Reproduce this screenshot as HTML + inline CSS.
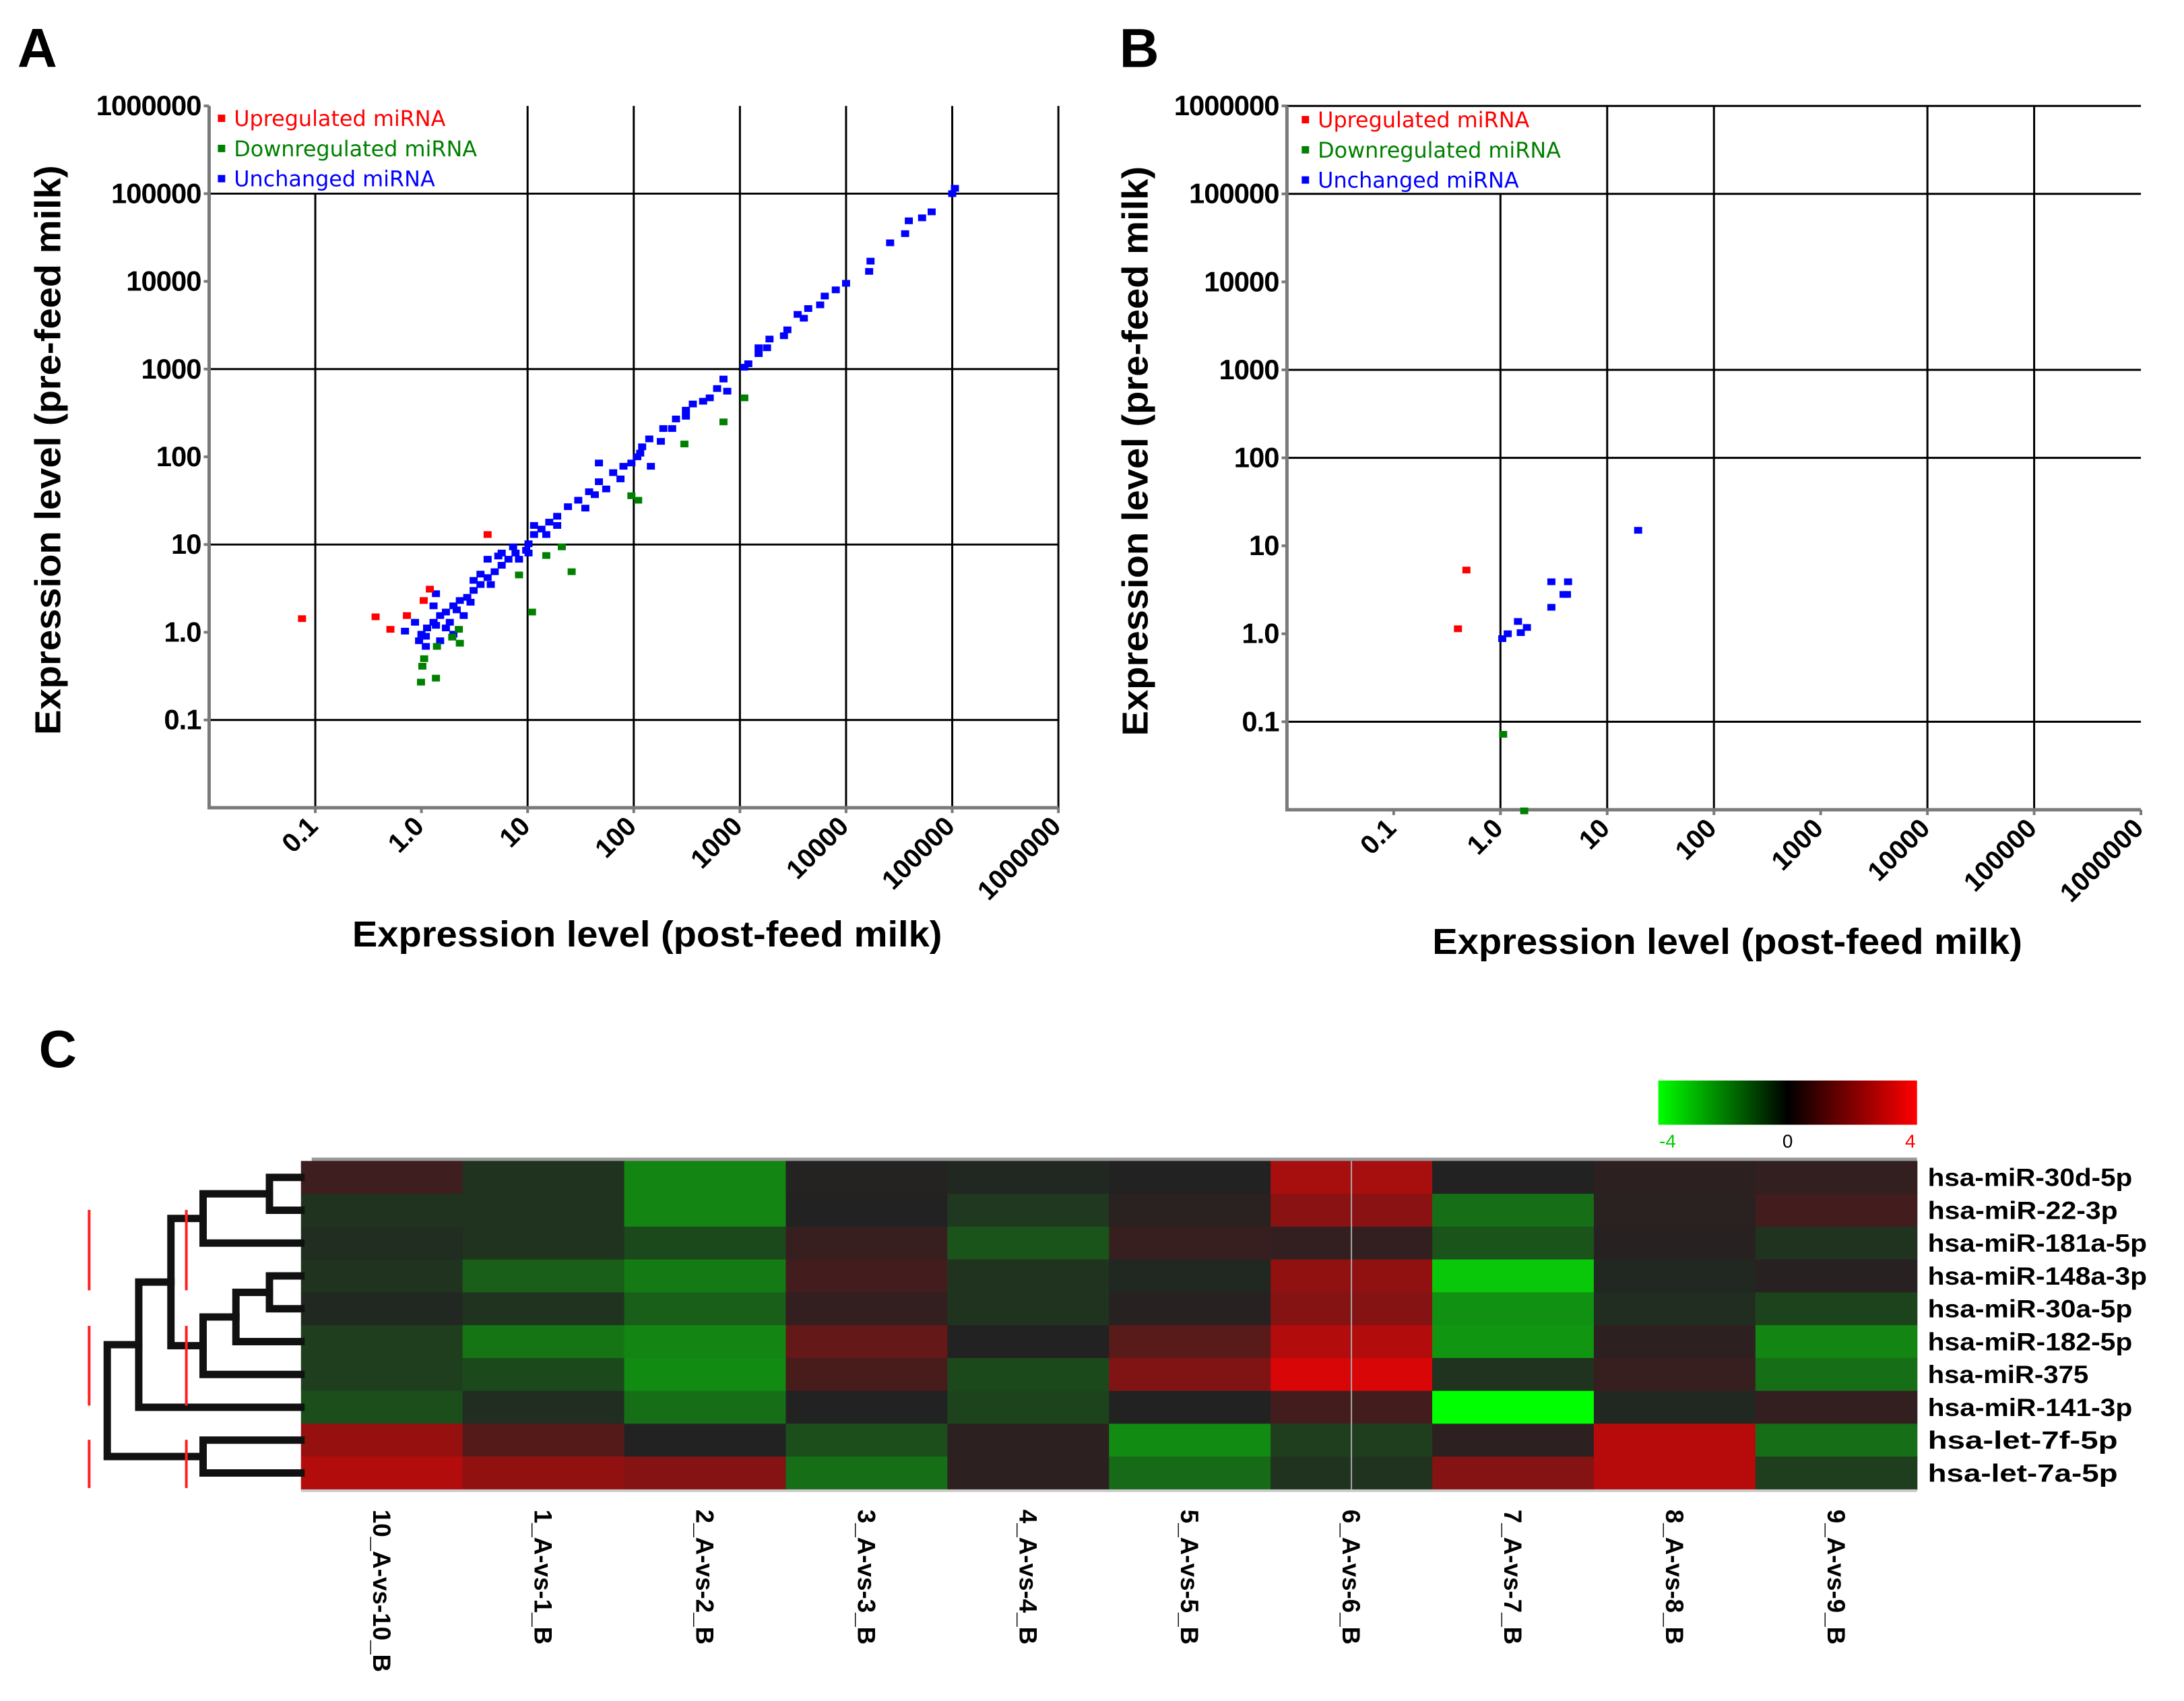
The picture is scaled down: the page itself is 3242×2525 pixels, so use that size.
<!DOCTYPE html>
<html><head><meta charset="utf-8"><style>
html,body{margin:0;padding:0;background:#fff;}
svg{display:block;}
text{font-family:"Liberation Sans",Arial,sans-serif;}
</style></head><body>
<svg xmlns="http://www.w3.org/2000/svg" width="3242" height="2525" viewBox="0 0 3242 2525">
<rect width="3242" height="2525" fill="#fff"/>
<g id="fig" transform="scale(0.995)">
<text x="26" y="100" font-size="82" font-weight="bold">A</text>
<text x="1670" y="100" font-size="82" font-weight="bold">B</text>
<text x="58" y="1592" font-size="78" font-weight="bold">C</text>
<g id="pA"></g>
<g id="pB"></g>
<g id="hm"></g>
</g>
</svg>
<script>
// ---- Panel A data ----
const aBlueX=[1e5,1.06e5,6.4e4,5.2e4,3.9e4,3.6e4,2.6e4,1.7e4,1.65e4,1e4,8e3,6.3e3,5.7e3,4.4e3,3.5e3,2.8e3,2.6e3,1.9e3,1.8e3,1.5e3,1.2e3,1.1e3,700,760,610,450,360,310,250,190,140,120,108,95,80,145,64,47,47,38,30,24,19,16,13.5,11.5,10.2,9.7,7.7,6.6,5.7,4.9,4.2,3.6,3.1,2.7,2.3,2,1.7,1.5,1.3,1.13,1.0,1.1,0.95,0.7,0.87,1.37,4.2,5.7,7.3,11.5,15,19,35,43,55,75,115,180,230,310,520,1.5e3,4e3,1.85,2.15,2.5,2.9,1.7,1.5,2,1.3,3.6,4.5,5.3,8.3,10.2,3.1,1.1,1.37];
const aBlueY=[1e5,1.15e5,6.2e4,5.3e4,4.9e4,3.5e4,2.75e4,1.7e4,1.3e4,9.5e3,8e3,6.8e3,5.4e3,4.9e3,4.2e3,2.8e3,2.4e3,2.2e3,1.75e3,1.5e3,1.15e3,1.05e3,770,560,600,430,400,340,270,210,160,130,100,85,78,78,66,85,52,40,32,27,21,18,15,13,10.2,8.6,8,6.8,5.8,4.9,4.2,3.5,3,2.5,2.3,2,1.7,1.55,1.3,1.12,0.95,0.69,0.8,1.03,1.3,2.75,6.8,8,9.4,16.5,13,16.5,26,37,43,56,110,150,210,290,470,1.75e3,3.8e3,1.3,1.8,1.55,2.2,1.12,0.8,0.95,2,4.6,3.5,7.4,6.8,8,3.9,0.9,1.2];
const aRedX=[0.075,0.37,0.51,0.73,1.05,1.2,4.2];
const aRedY=[1.43,1.5,1.08,1.55,2.3,3.1,13];
const aGreenX=[1100,700,300,95,110,21,15,26,8.3,11,2.25,1.95,2.3,1.4,1.06,1.02,0.99,1.37];
const aGreenY=[470,250,140,36,32,9.4,7.5,4.9,4.5,1.7,1.08,0.88,0.75,0.69,0.5,0.41,0.27,0.3];
// ---- Panel B data ----
const bBlueX=[1.04,1.17,1.46,1.55,1.77,3.0,3.0,3.9,4.2,4.3,19.5];
const bBlueY=[0.88,1.0,1.38,1.03,1.18,2.0,3.9,2.8,2.8,3.9,15];
const bRedX=[0.48,0.4];
const bRedY=[5.3,1.14];
const bGreenX=[1.06,1.67];
const bGreenY=[0.072,0.0097];
const tickLabels=["0.1","1.0","10","100","1000","10000","100000","1000000"];
const tickVals=[0.1,1,10,100,1000,10000,100000,1000000];
// ---- Heatmap data ----
const hmRows=["hsa-miR-30d-5p","hsa-miR-22-3p","hsa-miR-181a-5p","hsa-miR-148a-3p","hsa-miR-30a-5p","hsa-miR-182-5p","hsa-miR-375","hsa-miR-141-3p","hsa-let-7f-5p","hsa-let-7a-5p"];
const hmCols=["10_A-vs-10_B","1_A-vs-1_B","2_A-vs-2_B","3_A-vs-3_B","4_A-vs-4_B","5_A-vs-5_B","6_A-vs-6_B","7_A-vs-7_B","8_A-vs-8_B","9_A-vs-9_B"];
const hmValues=[
[0.5,-0.3,-1.8,0.05,-0.1,0,2.4,0,0.2,0.3],
[-0.3,-0.3,-1.8,0,-0.4,0.15,1.9,-1.4,0.15,0.6],
[-0.2,-0.3,-0.7,0.4,-0.9,0.4,0.3,-0.9,0.1,-0.3],
[-0.3,-1.1,-1.6,0.6,-0.3,-0.1,2.0,-3.0,-0.1,0.1],
[-0.1,-0.3,-1.1,0.3,-0.3,0.1,1.8,-2.0,-0.2,-0.6],
[-0.5,-1.5,-1.8,1.2,0,1.0,2.6,-2.1,0.2,-1.8],
[-0.5,-0.7,-1.9,0.7,-0.7,1.7,3.3,-0.3,0.4,-1.4],
[-0.8,-0.2,-1.4,0,-0.6,0.02,0.6,-4.0,-0.1,0.3],
[2.1,0.9,0.02,-0.8,0.2,-1.9,-0.5,0.2,2.7,-1.4],
[2.6,2.0,1.8,-1.4,0.2,-1.3,-0.3,1.8,2.7,-0.5]];
const scaleLabels=["-4","0","4"];
const scaleVals=[-4,0,4];

const NS="http://www.w3.org/2000/svg";
function mk(tag,attrs,parent,txt){const e=document.createElementNS(NS,tag);for(const k in attrs)e.setAttribute(k,attrs[k]);if(txt!==undefined)e.textContent=txt;parent.appendChild(e);return e;}

function scatter(g,L,R,T,B,hGrid,vGrid,vGridTop,topLine,series,legX,legY,xTitle,yTitle,yTitleX,xTitleDy){
  const xs=v=>L+(Math.log10(v)+2)*(R-L)/8;
  const ys=v=>B-(Math.log10(v)+2)*(B-T)/8;
  if(topLine){const l=mk('line',{x1:L,y1:T,x2:R,y2:T,stroke:'#000','stroke-width':3},g);}
  hGrid.forEach(v=>{const l=mk('line',{x1:L,y1:ys(v),x2:R,y2:ys(v),stroke:'#000','stroke-width':3},g);});
  vGrid.forEach((v,i)=>{const l=mk('line',{x1:xs(v),y1:ys(vGridTop[i]),x2:xs(v),y2:B,stroke:'#000','stroke-width':3},g);});
  const ax=mk('path',{d:`M${L},${T} L${L},${B} L${R},${B}`,fill:'none',stroke:'#7a7a7a','stroke-width':5},g);
  
  tickVals.forEach((v,i)=>{
    mk('line',{x1:xs(v),y1:B,x2:xs(v),y2:B+8,stroke:'#7a7a7a','stroke-width':4},g);
    mk('line',{x1:L-8,y1:ys(v),x2:L,y2:ys(v),stroke:'#7a7a7a','stroke-width':4},g);
    const tx=mk('text',{x:xs(v)+6,y:B+30,'font-size':40,'font-weight':'bold','text-anchor':'end',transform:`rotate(-45 ${xs(v)+6} ${B+30})`},g,tickLabels[i]);
    
    const ty=mk('text',{x:L-12,y:ys(v)+14,'font-size':42,'font-weight':'bold','text-anchor':'end','letter-spacing':-1},g,tickLabels[i]);
    
  });
  series.forEach(s=>{s.x.forEach((xv,i)=>{const r=mk('rect',{x:xs(xv)-6,y:ys(s.y[i])-5,width:12,height:10,fill:s.c},g);});});
  const legs=[["Upregulated miRNA","#ff0000"],["Downregulated miRNA","#008000"],["Unchanged miRNA","#0000ff"]];
  legs.forEach((l,i)=>{const y=legY+i*45;
    const m=mk('rect',{x:legX,y:y-6,width:11,height:11,fill:l[1]},g);
    const t=mk('text',{x:legX+24,y:y+11,'font-size':32,fill:l[1],style:'font-family:"DejaVu Sans",sans-serif'},g,l[0]);});
  const xt=mk('text',{x:(L+R)/2+20,y:B+207+xTitleDy,'font-size':54,'font-weight':'bold','text-anchor':'middle',textLength:880,lengthAdjust:'spacingAndGlyphs'},g,xTitle);
  
  const cy=(T+B)/2-10;
  const yt=mk('text',{x:yTitleX,y:cy,'font-size':54,'font-weight':'bold','text-anchor':'middle',textLength:850,lengthAdjust:'spacingAndGlyphs',transform:`rotate(-90 ${yTitleX} ${cy})`},g,yTitle);
  
}
scatter(document.getElementById('pA'),312,1579,158,1205,[1e5,1000,10,0.1],[0.1,10,100,1000,1e4,1e5,1e6],[1e5,1e6,1e6,1e6,1e6,1e6,1e6],false,
 [{x:aBlueX,y:aBlueY,c:'#0000ff',n:'unchanged'},{x:aRedX,y:aRedY,c:'#ff0000',n:'upregulated'},{x:aGreenX,y:aGreenY,c:'#008000',n:'downregulated'}],
 325,177,"Expression level (post-feed milk)","Expression level (pre-feed milk)",90,0);
scatter(document.getElementById('pB'),1920,3194,158,1208,[1e5,1000,100,0.1],[1,10,100,1e4,1e5],[1e5,1e6,1e6,1e6,1e6],true,
 [{x:bBlueX,y:bBlueY,c:'#0000ff',n:'unchanged'},{x:bRedX,y:bRedY,c:'#ff0000',n:'upregulated'},{x:bGreenX,y:bGreenY,c:'#008000',n:'downregulated'}],
 1942,179,"Expression level (post-feed milk)","Expression level (pre-feed milk)",1712,8);

// ---- heatmap ----
const hm=document.getElementById('hm');
const HL=449,HR=2860,HT=1732,HB=2222;
const cw=(HR-HL)/hmCols.length, rh=(HB-HT)/hmRows.length;
function col(v){const t=Math.min(1,Math.abs(v)/4);const b=34;
  if(v>=0)return `rgb(${Math.round(b+221*t)},${Math.round(b*(1-t))},${Math.round(b*(1-t))})`;
  return `rgb(${Math.round(b*(1-t))},${Math.round(b+221*t)},${Math.round(b*(1-t))})`;}
mk('rect',{x:HL+16,y:HT-5,width:HR-HL-16,height:6,fill:'#999'},hm);
hmValues.forEach((row,r)=>row.forEach((v,c)=>{
  const e=mk('rect',{x:HL+c*cw,y:HT+r*rh,width:cw+0.6,height:rh+0.6,fill:col(v)},hm);
  }));
mk('line',{x1:HL+6.5*cw,y1:HT,x2:HL+6.5*cw,y2:HB,stroke:'#aaa','stroke-width':2},hm);
mk('rect',{x:HL,y:HB,width:HR-HL,height:4,fill:'#ccc'},hm);
hmRows.forEach((n,r)=>{const t=mk('text',{x:2876,y:HT+r*rh+rh/2+13,'font-size':37,'font-weight':'bold',textLength:n.length*21.8,lengthAdjust:'spacingAndGlyphs'},hm,n);
  });
hmCols.forEach((n,c)=>{const x=HL+c*cw+cw/2-13,y=2252;
  const t=mk('text',{x:x,y:y,'font-size':37,'font-weight':'bold',transform:`rotate(90 ${x} ${y})`},hm,n);
  });
// color scale
const defs=mk('defs',{},hm);const gr=mk('linearGradient',{id:'cs',x1:0,x2:1,y1:0,y2:0},defs);
mk('stop',{offset:0,'stop-color':'#00ff00'},gr);mk('stop',{offset:0.5,'stop-color':'#000'},gr);mk('stop',{offset:1,'stop-color':'#ff0000'},gr);
const SL=2474,SR=2860;
const cb=mk('rect',{x:SL,y:1612,width:SR-SL,height:66,fill:'url(#cs)'},hm);
scaleVals.forEach((v,i)=>{const x=SL+(v+4)/8*(SR-SL)+(i==0?14:i==2?-10:0);
  const t=mk('text',{x:x,y:1712,'font-size':28,'text-anchor':'middle',fill:i==0?'#00cc00':i==2?'#ff0000':'#000'},hm,scaleLabels[i]);
  });
// dendrogram
const ly=r=>HT+r*rh+rh/2;
const dg=mk('g',{stroke:'#111','stroke-width':11,fill:'none','stroke-linecap':'square'},hm);

function join(a,b,x){mk('path',{d:`M${a.x},${a.y} L${x},${a.y} L${x},${b.y} L${b.x},${b.y}`},dg);return {x:x,y:(a.y+b.y)/2};}
const leaf=r=>({x:HL,y:ly(r)});
const n01=join(leaf(0),leaf(1),402);
const n012=join(n01,leaf(2),303);
const n34=join(leaf(3),leaf(4),402);
const n345=join(n34,leaf(5),352);
const n3456=join(n345,leaf(6),303);
const nA=join(n012,n3456,255);
const nB=join(nA,leaf(7),207);
const n89=join(leaf(8),leaf(9),303);
join(nB,n89,160);
[[1805,1925],[1978,2097],[2148,2220]].forEach(s=>{[133,278].forEach(x=>{
  const l=mk('line',{x1:x,y1:s[0],x2:x,y2:s[1],stroke:'#ff2020','stroke-width':4},hm);
  });});
</script>
</body></html>
